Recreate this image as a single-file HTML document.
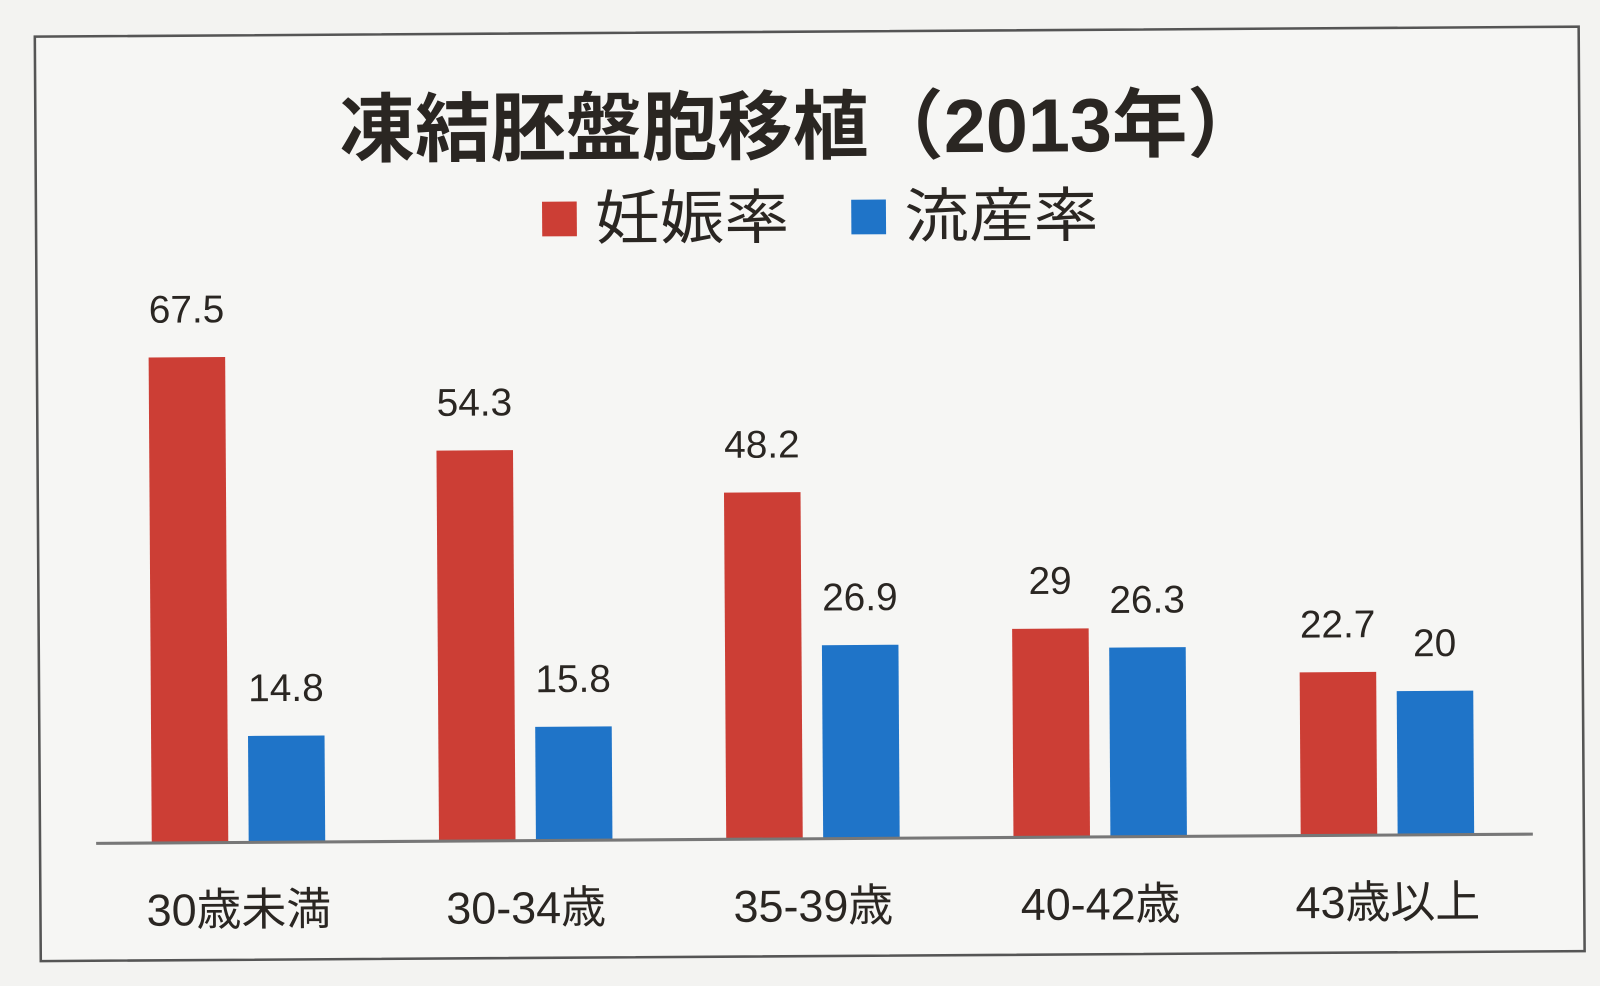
<!DOCTYPE html>
<html><head><meta charset="utf-8"><style>
html,body{margin:0;padding:0;background:#f3f3f1;}
svg{display:block;}
text{font-family:"Liberation Sans","Noto Sans CJK JP",sans-serif;fill:#2a2622;}
</style></head><body>
<svg id="chart" width="1600" height="986" viewBox="0 0 1600 986">
<g transform="scale(1.0204)">
<g id="root" transform="rotate(-0.37 795 480)">
<rect x="37" y="31" width="1513" height="906" fill="#f6f6f4" stroke="#555" stroke-width="2.5"/>
<text x="335" y="150" font-size="74" font-weight="bold" textLength="905" lengthAdjust="spacingAndGlyphs">凍結胚盤胞移植（2013年）</text>
<g>
<rect x="533" y="196" width="34" height="34" fill="#cc3e35"/>
<text x="585" y="233" font-size="58" textLength="190" lengthAdjust="spacingAndGlyphs">妊娠率</text>
<rect x="836" y="196" width="34" height="34" fill="#1f74c8"/>
<text x="888" y="233" font-size="58" textLength="190" lengthAdjust="spacingAndGlyphs">流産率</text>
</g>
<g id="bars"></g>
<line x1="92" y1="822" x2="1500" y2="822" stroke="#777" stroke-width="3"/>
</g>
</g>
</svg>
<script>
const categories = ["30歳未満","30-34歳","35-39歳","40-42歳","43歳以上"];
const pregnancy = [67.5, 54.3, 48.2, 29, 22.7];
const miscarriage = [14.8, 15.8, 26.9, 26.3, 20];
const labelsP = ["67.5","54.3","48.2","29","22.7"];
const labelsM = ["14.8","15.8","26.9","26.3","20"];
const baseY = 822, scale = 7.05, x0 = 184, step = 281.5, bw = 75, gap = 95;
const y = v => baseY - v * scale;
const ns = "http://www.w3.org/2000/svg";
const g = document.getElementById('bars');
function mk(tag, attrs){const e=document.createElementNS(ns,tag);for(const k in attrs)e.setAttribute(k,attrs[k]);return e;}
categories.forEach((c,i)=>{
  const cx = x0 + i*step;
  const r = mk('rect',{x:cx-bw/2,y:y(pregnancy[i]),width:bw,height:pregnancy[i]*scale,fill:'#cc3e35'});
  
  
  g.appendChild(r);
  const b = mk('rect',{x:cx+gap-bw/2,y:y(miscarriage[i]),width:bw,height:miscarriage[i]*scale,fill:'#1f74c8'});
  
  
  g.appendChild(b);
  const t1 = mk('text',{x:cx,y:y(pregnancy[i])-34,'text-anchor':'middle','font-size':38});
  t1.textContent = labelsP[i];
  
  
  g.appendChild(t1);
  const t2 = mk('text',{x:cx+gap,y:y(miscarriage[i])-34,'text-anchor':'middle','font-size':38});
  t2.textContent = labelsM[i];
  
  
  g.appendChild(t2);
  const cl = mk('text',{x:cx+gap/2,y:903,'text-anchor':'middle','font-size':44});
  cl.textContent = c;
  
  
  g.appendChild(cl);
});
</script>
</body></html>
